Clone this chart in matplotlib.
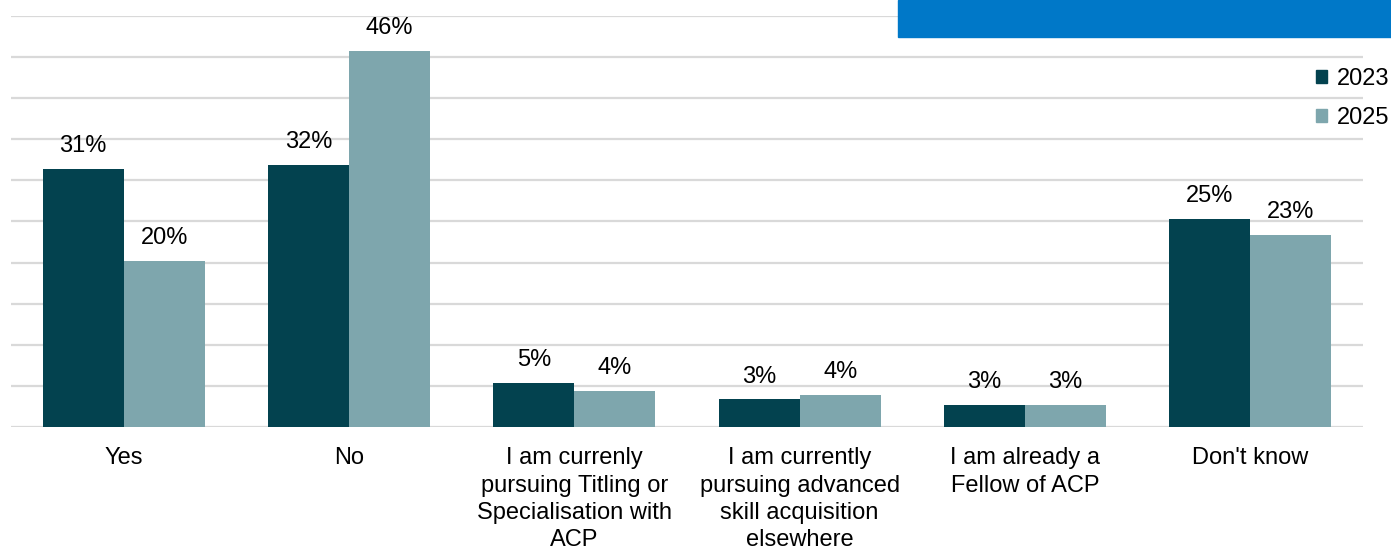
import matplotlib
matplotlib.use("Agg")
import matplotlib.pyplot as plt
from matplotlib.patches import Rectangle, Patch
import numpy as np

plt.rcParams['font.family'] = ['Liberation Sans', 'DejaVu Sans']

categories = [
    "Yes",
    "No",
    "I am currenly\npursuing Titling or\nSpecialisation with\nACP",
    "I am currently\npursuing advanced\nskill acquisition\nelsewhere",
    "I am already a\nFellow of ACP",
    "Don't know",
]
series_names = ["2023", "2025"]
values_2023 = [31.4, 31.9, 5.4, 3.4, 2.7, 25.3]
values_2025 = [20.2, 45.7, 4.4, 3.9, 2.7, 23.4]

dark = "#03424F"
light = "#7EA6AD"
grid_col = "#D9D9D9"
W, H = 1391, 549

fig = plt.figure(figsize=(W / 100, H / 100), dpi=100)
ax = fig.add_axes([11 / W, 1 - 427.3 / H, (1363 - 11) / W, (427.3 - 15.7) / H])

x = np.arange(len(categories))
bw = 0.36
b1 = ax.bar(x - bw / 2, values_2023, bw, color=dark, label=series_names[0], zorder=3)
b2 = ax.bar(x + bw / 2, values_2025, bw, color=light, label=series_names[1], zorder=3)

for bars, vals in ((b1, values_2023), (b2, values_2025)):
    for rect, v in zip(bars, vals):
        ax.annotate(f"{round(v):.0f}%", (rect.get_x() + rect.get_width() / 2, v),
                    xytext=(0, 8.5), textcoords="offset points",
                    ha="center", va="bottom", fontsize=17, color="#000000")

ax.set_xlim(-0.5, len(categories) - 0.5)
ax.set_ylim(0, 50)
ax.set_yticks(np.arange(0, 51, 5))
ax.yaxis.grid(True, color=grid_col, linewidth=1.6, zorder=0)
ax.set_axisbelow(True)
ax.tick_params(axis="y", left=False, labelleft=False)
ax.tick_params(axis="x", bottom=False, pad=11)
ax.set_xticks(x)
ax.set_xticklabels(categories, fontsize=17, linespacing=1.3, va="top")
for s in ax.spines.values():
    s.set_visible(False)

handles = [Patch(color=dark), Patch(color=light)]
fig.legend(handles, series_names, loc="upper right", bbox_to_anchor=(1.0 + 3 / W, 1 - 63 / H),
           frameon=False, fontsize=17, handlelength=0.5, handleheight=0.5,
           handletextpad=0.4, labelspacing=0.72, borderaxespad=0.0, borderpad=0.2)

fig.patches.append(Rectangle((898 / W, 1 - 37 / H), (W - 898) / W, 37 / H,
                             transform=fig.transFigure, color="#0078C8", zorder=5))

fig.savefig("out.png", dpi=100)
